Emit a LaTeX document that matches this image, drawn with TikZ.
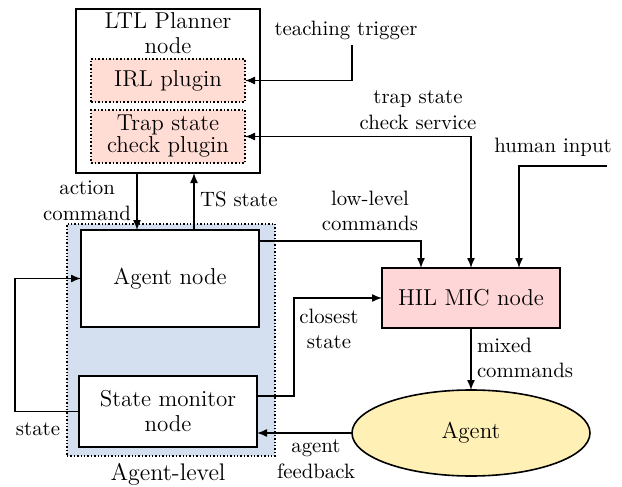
\documentclass[tikz,border=0pt]{standalone}
\usetikzlibrary{arrows.meta,shapes.geometric}
\definecolor{plugfill}{HTML}{FFDCD4}
\definecolor{hilfill}{HTML}{FFD6D8}
\definecolor{agfill}{HTML}{FFF1B6}
\definecolor{lvlfill}{HTML}{D4E0F0}
\begin{document}
\begin{tikzpicture}[x=0.5pt,y=-0.5pt,
  every node/.style={inner sep=0pt, outer sep=0pt},
  box/.style={draw, line width=0.8pt, rectangle, fill=white},
  plug/.style={draw, densely dotted, line width=0.8pt, rectangle, fill=plugfill, align=center, font=\fontsize{11.5}{11}\selectfont},
  big/.style={font=\fontsize{11.5}{12.5}\selectfont, align=center},
  lbl/.style={font=\fontsize{10.4}{12.8}\selectfont, align=center},
  arr/.style={draw, line width=0.7pt, -{Latex[length=5pt,width=4pt]}},
  ln/.style={draw, line width=0.7pt}]
\useasboundingbox (0,0) rectangle (622,487);
% Agent-level background
\node[draw, densely dotted, line width=0.7pt, fill=lvlfill, minimum width=104pt, minimum height=116pt] (lvl) at (171,340) {};
\node[font=\fontsize{12}{13}\selectfont] (lvltxt) at (168,474) {Agent-level};
% LTL planner
\node[box, minimum width=92pt, minimum height=82pt] (ltl) at (168,91) {};
\node[big] (ltltxt) at (168,33) {LTL Planner\\node};
\node[plug, minimum width=77pt, minimum height=21.5pt] (irl) at (168,80.5) {IRL plugin};
\node[plug, minimum width=77pt, minimum height=26.5pt] (trap) at (168,136.5) {Trap state\\check plugin};
% agent-level nodes
\node[box, big, minimum width=89pt, minimum height=48.5pt] (agn) at (170,278.5) {Agent node};
\node[box, big, minimum width=89pt, minimum height=35.5pt] (smn) at (168,411.5) {State monitor\\node};
% HIL
\node[draw, line width=0.8pt, fill=hilfill, big, minimum width=89pt, minimum height=30pt] (hil) at (471,298) {HIL MIC node};
% Agent ellipse
\node[draw, line width=0.8pt, fill=agfill, ellipse, big, minimum width=119pt, minimum height=43pt] (agent) at (471,433) {Agent};
% coordinates
\coordinate (xa) at (137,0);
\coordinate (xt) at (194,0);
\coordinate (xl) at (421,0);
\coordinate (xs) at (471,0);
\coordinate (xh) at (519,0);
\coordinate (tt) at (352,45);
\coordinate (hi) at (607,166);
\coordinate (ts) at (15,0);
\coordinate (cs) at (294,298);
% connectors
\draw[arr] (ltl.south -| xa) -- (agn.north -| xa);
\draw[arr] (agn.north -| xt) -- (ltl.south -| xt);
\draw[arr] (tt) |- (irl.east);
\draw[ln, {Latex[length=5pt,width=4pt]}-{Latex[length=5pt,width=4pt]}] (trap.east) -| (hil.north -| xs);
\draw[arr] (hi) -| (hil.north -| xh);
\draw[arr] (agn.east |- 0,241) -| (hil.north -| xl);
\draw[arr] (smn.east |- 0,396) -| (cs) -- (hil.west);
\draw[arr] (hil.south) -- (agent.north);
\draw[arr] (agent.west) -- (smn.east |- agent.west);
\draw[arr] (smn.west) -| (ts |- agn.west) -- (agn.west);
% labels
\node[lbl] (ltt) at (346,30) {teaching trigger};
\node[lbl] (lts) at (418,110) {trap state\\check service};
\node[lbl] (lhi) at (553,147) {human input};
\node[lbl] (lll) at (370,211) {low-level\\commands};
\node[lbl, anchor=east] (lac) at (131,201) {action\\command};
\node[lbl, anchor=west] (lts2) at (200,199) {TS state};
\node[lbl] (lcs) at (329,329) {closest\\state};
\node[lbl, align=left, anchor=west] (lmc) at (477,358) {mixed\\commands};
\node[lbl] (lst) at (38,429) {state};
\node[lbl] (laf) at (316,459) {agent\\feedback};
\end{tikzpicture}
\end{document}
